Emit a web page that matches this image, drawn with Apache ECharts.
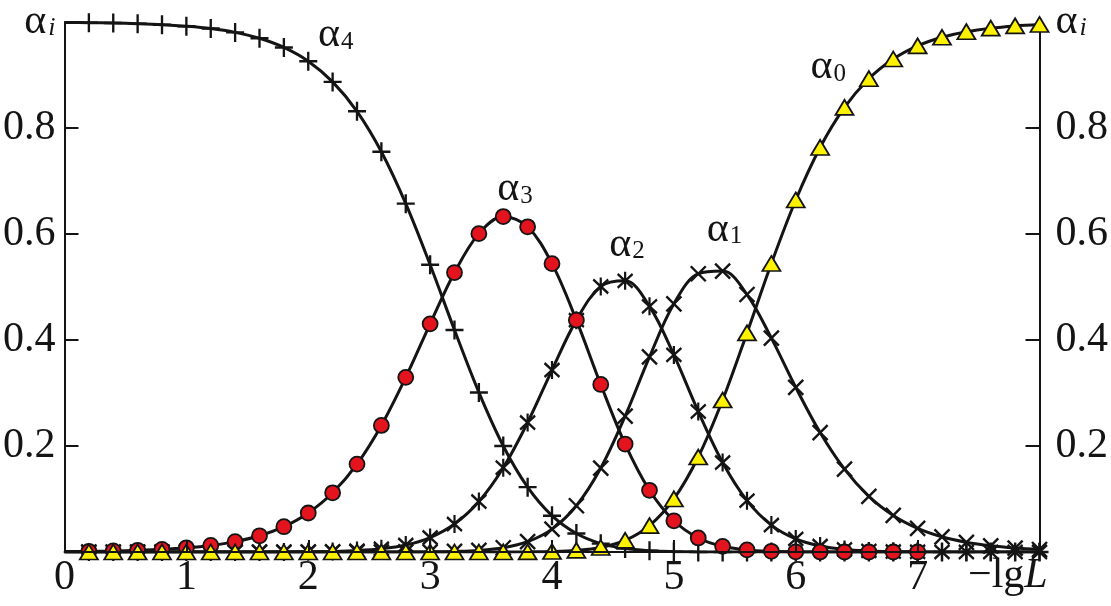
<!DOCTYPE html>
<html><head><meta charset="utf-8">
<script src="https://cdn.jsdelivr.net/npm/echarts@6/dist/echarts.min.js"></script>
<style>html,body{margin:0;padding:0;background:#fff}#c{width:1111px;height:606px}</style>
</head><body><div id="c"></div>
<script>
// -lgL values (x), fraction of each species alpha_i
const xValues = [0,0.2,0.4,0.6,0.8,1.0,1.2,1.4,1.6,1.8,2.0,2.2,2.4,2.6,2.8,3.0,3.2,3.4,3.6,3.8,4.0,4.2,4.4,4.6,4.8,5.0,5.2,5.4,5.6,5.8,6.0,6.2,6.4,6.6,6.8,7.0,7.2,7.4,7.6,7.8,8.0];
const alpha4 = [0.9992,0.9987,0.998,0.9968,0.995,0.992,0.9876,0.9804,0.9693,0.952,0.926,0.887,0.8315,0.7552,0.6573,0.542,0.4189,0.3011,0.2001,0.1224,0.0685,0.0348,0.0158,0.0064,0.0023,0.0007,0.0002,0,0,0,0,0,0,0,0,0,0,0,0,0,0];
const alpha3 = [0.0008,0.0013,0.002,0.0032,0.005,0.0079,0.0124,0.0196,0.0306,0.0477,0.0736,0.1117,0.1659,0.2388,0.3295,0.4305,0.5273,0.6007,0.6329,0.6136,0.544,0.4375,0.3161,0.2037,0.1164,0.0589,0.0265,0.0107,0.0039,0.0013,0.0004,0.0001,0,0,0,0];
const alpha2 = [0,0,0,0,0,0,0,0,0.0001,0.0002,0.0005,0.0011,0.0026,0.006,0.0131,0.0272,0.0527,0.0952,0.159,0.2443,0.3433,0.4375,0.501,0.5116,0.4635,0.3719,0.2651,0.1688,0.0969,0.0508,0.0247,0.0113,0.0049,0.0021,0.0009,0.0004,0.0001,0,0,0,0];
const alpha1 = [0,0,0,0,0,0,0,0,0,0,0,0,0,0,0.0001,0.0003,0.0011,0.003,0.008,0.0194,0.0432,0.0873,0.1584,0.2564,0.3681,0.4682,0.525,0.53,0.4858,0.4035,0.3107,0.2253,0.1562,0.1049,0.069,0.0447,0.0287,0.0183,0.0116,0.0074,0.0047];
const alpha0 = [0,0,0,0,0,0,0,0,0,0,0,0,0,0,0,0,0,0,0.0001,0.0003,0.0009,0.003,0.0085,0.0218,0.0497,0.1001,0.1792,0.2867,0.4134,0.5444,0.6642,0.7633,0.8388,0.893,0.9302,0.955,0.9712,0.9817,0.9884,0.9926,0.9953];
const xTickLabels = ['0','1','2','3','4','5','6','7'];
const yTickLabels = ['0.2','0.4','0.6','0.8'];
const yTickValues = [0.2, 0.4, 0.6, 0.8];
const seriesNames = ['α4','α3','α2','α1','α0'];
const seriesSubs = ['4','3','2','1','0'];

const INK = '#141414';
const FONT = '"Liberation Serif", "Times New Roman", serif';
const pts = (arr, from) => arr.map((v, i) => [xValues[i], v]).slice(from);

const richAlpha = {
  a: {fontFamily: FONT, fontSize: 42, color: INK},
  s: {fontFamily: FONT, fontSize: 25, color: INK, padding: [14, 0, 0, 1]},
  i: {fontFamily: FONT, fontSize: 26, fontStyle: 'italic', color: INK, padding: [12, 0, 0, 2]}
};

const chart = echarts.init(document.getElementById('c'), null, {renderer: 'canvas'});

function yLabel(v) {
  if (Math.abs(v - 1) < 1e-9) return '{a|α}{i|i}';
  const s = v.toFixed(1);
  return yTickLabels.indexOf(s) >= 0 ? s : '';
}

const datasets = [alpha4, alpha3, alpha2, alpha1, alpha0];
const labelCoords = [[2.08, 0.975], [3.55, 0.685], [4.47, 0.58], [5.27, 0.608], [6.12, 0.915]];

const lineSeries = datasets.map((arr, k) => ({
  name: seriesNames[k] + '-line',
  type: 'line',
  data: pts(arr, 0),
  smooth: 0.35,
  showSymbol: false,
  symbol: 'none',
  z: 2,
  silent: true,
  lineStyle: {color: INK, width: 3},
  markPoint: {
    symbol: 'circle', symbolSize: 0, silent: true,
    label: {show: true, position: 'right', distance: 0, formatter: '{a|α}{s|' + seriesSubs[k] + '}', rich: richAlpha},
    data: [{coord: labelCoords[k]}]
  }
}));

const plusPath = 'path://M0,6 L12,6 M6,0 L6,12';
const crossPath = 'path://M0,0 L10,10 M10,0 L0,10';
const starPath = 'path://M0,0 L10,10 M10,0 L0,10 M5,-1.5 L5,11.5';

const markerSeries = [
  {name: 'α4', type: 'scatter', data: pts(alpha4, 1), symbol: plusPath, symbolSize: [18, 19], z: 3,
   itemStyle: {color: 'rgba(0,0,0,0)', borderColor: INK, borderWidth: 2.4, opacity: 1}},
  {name: 'α1', type: 'scatter', data: pts(alpha1, 1), symbol: crossPath, symbolSize: 15, z: 4,
   itemStyle: {color: 'rgba(0,0,0,0)', borderColor: INK, borderWidth: 2.4, opacity: 1}},
  {name: 'α2', type: 'scatter', data: pts(alpha2, 1), symbol: starPath, symbolSize: [15, 18], z: 5,
   itemStyle: {color: 'rgba(0,0,0,0)', borderColor: INK, borderWidth: 2.4, opacity: 1}},
  {name: 'α3', type: 'scatter', data: pts(alpha3, 1), symbol: 'circle', symbolSize: 15, z: 6,
   itemStyle: {color: '#e3141e', borderColor: INK, borderWidth: 1.8, opacity: 1}},
  {name: 'α0', type: 'scatter', data: pts(alpha0, 1), symbol: 'triangle', symbolSize: [18, 15], z: 7,
   itemStyle: {color: '#fff200', borderColor: INK, borderWidth: 1.8, opacity: 1}}
];

const yAxisBase = {
  type: 'value', min: 0, max: 1, interval: 0.2,
  axisLine: {show: true, lineStyle: {color: INK, width: 2}},
  axisTick: {show: true, inside: true, length: 14, customValues: yTickValues, lineStyle: {color: INK, width: 2}},
  splitLine: {show: false},
  axisLabel: {formatter: yLabel, fontFamily: FONT, fontSize: 42, color: INK, rich: richAlpha}
};

chart.setOption({
  animation: false,
  backgroundColor: '#fff',
  grid: {left: 62, right: 69, top: 22, bottom: 54, containLabel: false},
  xAxis: {
    type: 'value', min: 0, max: 8, interval: 1, z: 10,
    axisLine: {show: true, onZero: false, lineStyle: {color: INK, width: 2}},
    axisTick: {show: true, inside: true, length: 12, lineStyle: {color: INK, width: 2}},
    splitLine: {show: false},
    axisLabel: {
      margin: 5, fontFamily: FONT, fontSize: 42, color: INK,
      formatter: v => { const i = Math.round(v); return (Math.abs(v - i) < 1e-9 && i < xTickLabels.length) ? xTickLabels[i] : ''; }
    }
  },
  yAxis: [
    Object.assign({}, yAxisBase, {position: 'left', axisLabel: Object.assign({}, yAxisBase.axisLabel, {margin: 9})}),
    Object.assign({}, yAxisBase, {position: 'right', axisLabel: Object.assign({}, yAxisBase.axisLabel, {margin: 16})})
  ],
  graphic: [{
    type: 'text', left: 968, top: 555, z: 20,
    style: {
      text: '{n|−lg}{L|L}',
      rich: {
        n: {fontFamily: FONT, fontSize: 42, fill: INK, color: INK},
        L: {fontFamily: FONT, fontSize: 42, fontStyle: 'italic', fill: INK, color: INK}
      }
    }
  }],
  series: lineSeries.concat(markerSeries)
});
</script>
</body></html>
